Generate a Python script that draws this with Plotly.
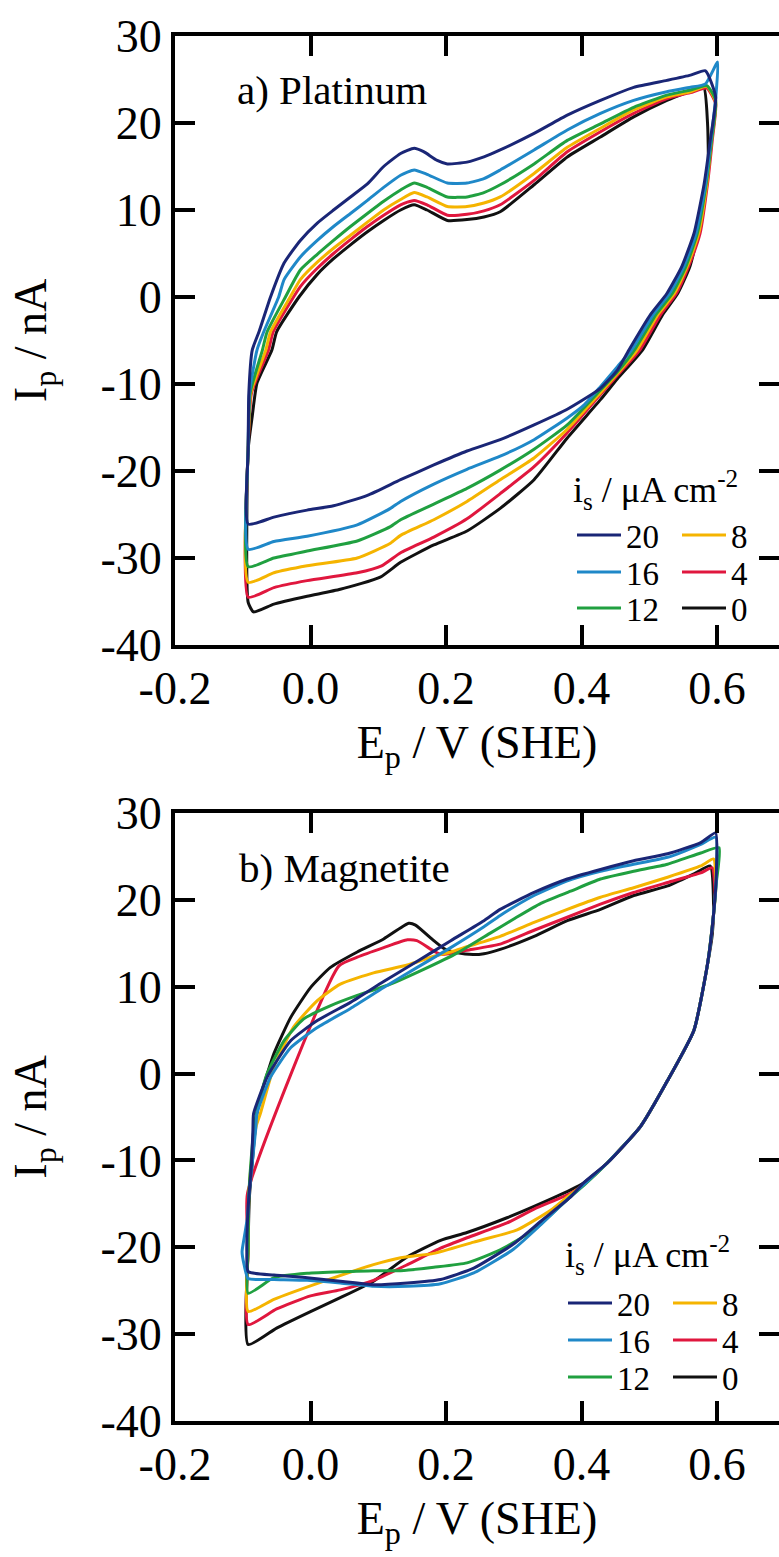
import plotly.graph_objects as go

# ---------------- data ----------------
# a) Platinum : anodic branch followed by cathodic branch (closed loop)
PT_E_20 = [-0.092, -0.092, -0.091, -0.086, -0.076, -0.059, -0.039, -0.015, 0.010, 0.034, 0.059, 0.084, 0.108, 0.133,
           0.153, 0.167, 0.187, 0.202, 0.231, 0.256, 0.280, 0.330, 0.379, 0.428, 0.477, 0.526, 0.561, 0.583,
           0.598, 0.590, 0.581, 0.566, 0.548, 0.526, 0.502, 0.470, 0.453, 0.428, 0.379, 0.330, 0.280, 0.231,
           0.182, 0.133, 0.084, 0.034, -0.005, -0.054, -0.092]
PT_I_20 = [-26.1, -17.5, -11.0, -6.1, -4.0, 0.0, 3.9, 6.5, 8.5, 10.0, 11.5, 13.0, 15.0, 16.5,
           17.1, 16.7, 15.7, 15.3, 15.5, 16.1, 16.9, 18.8, 20.9, 22.6, 24.1, 24.9, 25.5, 26.0,
           23.0, 18.0, 13.0, 7.3, 3.5, 0.4, -2.0, -6.1, -8.4, -10.5, -12.9, -14.7, -16.4, -17.7,
           -19.3, -21.0, -22.8, -24.0, -24.5, -25.3, -26.1]

PT_E_16 = [-0.092, -0.092, -0.090, -0.079, -0.069, -0.047, -0.039, -0.015, 0.010, 0.034, 0.059, 0.084, 0.108, 0.133,
           0.153, 0.172, 0.202, 0.231, 0.256, 0.280, 0.330, 0.379, 0.428, 0.477, 0.526, 0.561, 0.583, 0.601,
           0.598, 0.591, 0.583, 0.569, 0.551, 0.530, 0.506, 0.474, 0.453, 0.428, 0.404, 0.379, 0.330, 0.280,
           0.231, 0.182, 0.133, 0.118, 0.069, -0.005, -0.054, -0.092]
PT_I_16 = [-29.0, -17.5, -11.0, -6.1, -4.0, 0.0, 2.0, 4.6, 6.5, 8.1, 9.6, 11.1, 12.6, 14.0,
           14.6, 14.1, 13.1, 13.1, 13.6, 14.6, 16.9, 19.2, 21.1, 22.6, 23.6, 24.1, 24.5, 27.0,
           22.8, 18.0, 13.0, 7.3, 3.5, 0.4, -2.0, -6.1, -8.0, -10.3, -12.4, -13.9, -16.4, -18.3,
           -19.8, -21.5, -23.5, -24.3, -26.2, -27.5, -28.1, -29.0]

PT_E_12 = [-0.092, -0.092, -0.089, -0.071, -0.064, -0.037, -0.015, 0.010, 0.034, 0.059, 0.084, 0.108, 0.133,
           0.153, 0.172, 0.202, 0.231, 0.256, 0.280, 0.330, 0.379, 0.428, 0.477, 0.526, 0.561, 0.585,
           0.598, 0.592, 0.584, 0.571, 0.554, 0.534, 0.510, 0.478, 0.453, 0.428, 0.379, 0.330, 0.280,
           0.231, 0.182, 0.133, 0.118, 0.069, -0.005, -0.054, -0.092]
PT_I_12 = [-31.0, -17.5, -11.0, -6.1, -4.0, 0.0, 3.1, 4.9, 6.5, 8.1, 9.6, 11.0, 12.3,
           13.1, 12.6, 11.5, 11.5, 12.0, 12.9, 15.3, 18.0, 19.9, 21.8, 23.2, 23.8, 24.3,
           22.6, 18.0, 13.0, 7.3, 3.5, 0.4, -2.0, -6.1, -8.6, -10.7, -14.7, -17.5, -19.9,
           -22.0, -23.8, -25.6, -26.4, -28.05, -29.2, -30.0, -31.0]

PT_E_8 = [-0.092, -0.092, -0.088, -0.066, -0.059, -0.030, -0.015, 0.010, 0.034, 0.059, 0.084, 0.108, 0.133,
          0.153, 0.172, 0.202, 0.231, 0.256, 0.280, 0.330, 0.379, 0.428, 0.477, 0.526, 0.561, 0.585,
          0.598, 0.592, 0.585, 0.573, 0.556, 0.537, 0.513, 0.482, 0.453, 0.428, 0.379, 0.330, 0.280,
          0.231, 0.182, 0.133, 0.118, 0.069, -0.005, -0.054, -0.092]
PT_I_8 = [-32.8, -17.5, -11.0, -6.1, -4.0, 0.0, 2.0, 4.0, 5.6, 7.1, 8.6, 10.0, 11.2,
          12.0, 11.5, 10.4, 10.4, 10.8, 11.5, 14.2, 17.2, 19.4, 21.5, 23.0, 23.6, 24.2,
          22.4, 18.0, 13.0, 7.3, 3.5, 0.4, -2.0, -6.1, -8.8, -11.0, -15.2, -18.5, -21.0,
          -23.5, -25.6, -27.4, -28.3, -30.0, -30.9, -31.7, -32.8]

PT_E_4 = [-0.092, -0.092, -0.087, -0.062, -0.055, -0.025, -0.015, 0.010, 0.034, 0.059, 0.084, 0.108, 0.133,
          0.153, 0.172, 0.202, 0.231, 0.256, 0.280, 0.330, 0.379, 0.428, 0.477, 0.526, 0.561, 0.585,
          0.598, 0.593, 0.586, 0.575, 0.558, 0.540, 0.517, 0.486, 0.453, 0.428, 0.379, 0.330, 0.280,
          0.231, 0.182, 0.133, 0.105, 0.069, -0.005, -0.054, -0.092]
PT_I_4 = [-34.5, -17.5, -11.0, -6.1, -4.0, 0.0, 1.2, 3.3, 5.0, 6.6, 8.1, 9.4, 10.6,
          11.1, 10.6, 9.4, 9.5, 9.9, 10.6, 13.4, 16.7, 19.0, 21.1, 22.8, 23.5, 24.0,
          22.2, 18.0, 13.0, 7.3, 3.5, 0.4, -2.0, -6.1, -9.0, -11.2, -15.6, -19.5, -22.6,
          -25.5, -27.6, -29.4, -30.9, -31.7, -32.6, -33.4, -34.5]

PT_E_0 = [-0.092, -0.092, -0.086, -0.079, -0.057, -0.050, -0.017, 0.010, 0.034, 0.059, 0.084, 0.108, 0.133,
          0.153, 0.172, 0.202, 0.231, 0.256, 0.280, 0.330, 0.379, 0.428, 0.477, 0.526, 0.555, 0.580,
          0.586, 0.587, 0.577, 0.560, 0.542, 0.520, 0.490, 0.453, 0.428, 0.379, 0.330, 0.280,
          0.231, 0.182, 0.133, 0.103, 0.044, -0.005, -0.054, -0.084, -0.092]
PT_I_0 = [-35.1, -17.5, -13.7, -9.9, -6.1, -4.0, 0.0, 2.6, 4.4, 6.0, 7.5, 8.8, 10.0,
          10.6, 10.0, 8.8, 8.9, 9.2, 9.8, 12.9, 16.1, 18.4, 20.7, 22.6, 23.5, 24.2,
          20.0, 15.0, 9.0, 3.5, 0.4, -2.0, -6.1, -9.4, -11.8, -16.2, -21.0, -24.3,
          -26.9, -28.5, -30.5, -32.2, -33.6, -34.4, -35.3, -36.2, -35.1]

# b) Magnetite
MG_E_20 = [-0.092, -0.094, -0.093, -0.091, -0.087, -0.085, -0.084, -0.064, -0.029, 0.010, 0.059, 0.108, 0.157,
           0.207, 0.256, 0.280, 0.330, 0.379, 0.428, 0.477, 0.527, 0.576, 0.598,
           0.599, 0.595, 0.586, 0.566, 0.527, 0.487, 0.438, 0.403, 0.384, 0.340, 0.300, 0.241, 0.192,
           0.143, 0.093, 0.044, -0.005, -0.054, -0.092]
MG_I_20 = [-22.8, -20.5, -17.0, -14.2, -10.3, -6.5, -4.6, -0.4, 3.8, 6.1, 8.2, 10.6, 12.9,
           15.3, 17.6, 18.9, 20.85, 22.4, 23.5, 24.5, 25.3, 26.6, 27.7,
           23.0, 18.4, 12.6, 5.0, -0.8, -6.1, -10.3, -12.6, -14.2, -17.0, -19.6, -22.4, -23.7,
           -24.1, -24.3, -23.9, -23.5, -23.2, -22.8]

MG_E_16 = [-0.092, -0.098, -0.101, -0.097, -0.093, -0.091, -0.086, -0.081, -0.079, -0.059, -0.029, 0.010, 0.059,
           0.108, 0.157, 0.207, 0.256, 0.280, 0.330, 0.379, 0.428, 0.477, 0.527, 0.576, 0.598,
           0.599, 0.595, 0.586, 0.566, 0.527, 0.487, 0.438, 0.403, 0.379, 0.340, 0.300, 0.241, 0.192,
           0.143, 0.093, 0.044, -0.005, -0.054, -0.092]
MG_I_16 = [-23.6, -22.0, -20.5, -18.5, -16.5, -14.2, -10.3, -6.5, -4.6, -0.4, 3.0, 5.3, 7.5,
           9.9, 12.2, 14.5, 16.9, 18.2, 20.5, 22.2, 23.3, 24.1, 24.9, 26.4, 27.2,
           22.5, 18.4, 12.6, 5.0, -0.8, -6.1, -10.3, -12.8, -14.5, -17.4, -20.2, -22.95, -24.2,
           -24.5, -24.5, -24.1, -23.8, -23.7, -23.6]

MG_E_12 = [-0.092, -0.092, -0.091, -0.088, -0.083, -0.075, -0.064, -0.039, -0.010, 0.029, 0.069, 0.118,
           0.167, 0.217, 0.266, 0.300, 0.340, 0.384, 0.428, 0.477, 0.527, 0.576, 0.603,
           0.599, 0.595, 0.586, 0.566, 0.527, 0.487, 0.438, 0.403, 0.379, 0.330, 0.280, 0.231,
           0.182, 0.133, 0.093, -0.005, -0.054, -0.092]
MG_I_12 = [-25.3, -20.0, -14.0, -10.3, -6.0, -3.0, 0.0, 3.8, 6.3, 7.8, 9.0, 10.3,
           12.0, 13.9, 16.2, 17.8, 19.6, 21.0, 22.4, 23.3, 24.1, 25.4, 26.0,
           22.0, 18.4, 12.6, 5.0, -0.8, -6.1, -10.3, -12.9, -14.5, -18.0, -20.3, -21.8,
           -22.3, -22.7, -22.7, -23.0, -23.5, -25.3]

MG_E_8 = [-0.092, -0.092, -0.091, -0.087, -0.080, -0.074, -0.054, -0.025, 0.010, 0.044, 0.093, 0.143,
          0.182, 0.207, 0.231, 0.280, 0.330, 0.379, 0.428, 0.477, 0.527, 0.576, 0.595,
          0.598, 0.595, 0.586, 0.566, 0.527, 0.487, 0.438, 0.403, 0.379, 0.355, 0.305, 0.241,
          0.182, 0.133, 0.093, 0.020, -0.054, -0.092]
MG_I_8 = [-27.4, -20.0, -14.0, -10.0, -6.0, -4.6, 0.8, 5.35, 8.4, 10.3, 11.6, 12.5,
          13.5, 14.0, 14.6, 15.8, 17.4, 18.9, 20.3, 21.4, 22.6, 23.9, 24.7,
          21.0, 18.4, 12.6, 5.0, -0.8, -6.1, -10.3, -12.8, -14.2, -15.7, -18.0, -19.4,
          -20.7, -21.2, -22.0, -23.9, -26.0, -27.4]

MG_E_4 = [-0.092, -0.092, -0.093, 0.042, 0.069, 0.108, 0.143, 0.157, 0.182, 0.194, 0.231, 0.280,
          0.330, 0.379, 0.428, 0.477, 0.527, 0.576, 0.593,
          0.597, 0.595, 0.586, 0.566, 0.527, 0.487, 0.438, 0.403, 0.384, 0.330, 0.290, 0.231,
          0.192, 0.143, 0.093, 0.044, 0.000, -0.050, -0.092]
MG_I_4 = [-28.9, -20.0, -13.8, 12.4, 13.4, 14.5, 15.4, 15.3, 14.1, 13.7, 14.2, 14.9,
          16.5, 18.0, 19.5, 20.85, 22.0, 23.1, 23.7,
          21.0, 18.4, 12.6, 5.0, -0.8, -6.1, -10.3, -12.8, -13.8, -15.6, -17.2, -18.9,
          -20.1, -22.0, -23.8, -24.9, -25.6, -27.1, -28.9]

MG_E_0 = [-0.092, -0.092, -0.090, -0.086, -0.080, -0.074, -0.054, -0.029, 0.000, 0.029, 0.069, 0.108,
          0.145, 0.155, 0.182, 0.197, 0.217, 0.240, 0.256, 0.280, 0.330, 0.379, 0.428, 0.477,
          0.527, 0.566, 0.590,
          0.595, 0.593, 0.586, 0.566, 0.527, 0.487, 0.438, 0.403, 0.384, 0.330, 0.290, 0.231,
          0.192, 0.143, 0.093, 0.044, 0.000, -0.050, -0.092]
MG_I_0 = [-31.2, -20.0, -14.0, -10.3, -5.0, -2.7, 2.3, 6.5, 9.9, 12.2, 14.0, 15.5,
          17.3, 17.1, 15.3, 14.4, 13.9, 13.7, 13.8, 14.3, 15.8, 17.6, 18.9, 20.5,
          21.6, 23.0, 23.9,
          19.1, 16.0, 12.6, 5.0, -0.8, -6.1, -10.3, -12.6, -13.4, -15.3, -16.6, -18.3,
          -19.2, -21.1, -23.9, -25.8, -27.4, -29.3, -31.2]

SERIES = ["20", "16", "12", "8", "4", "0"]          # legend labels, i_s / uA cm-2
DRAW_ORDER = ["0", "4", "8", "12", "16", "20"]
COLORS = {"20": "#1a2676", "16": "#1f88c8", "12": "#20a040", "8": "#f5b400",
          "4": "#e0173e", "0": "#111111"}

X_TICKS = [-0.2, 0.0, 0.2, 0.4, 0.6]
X_TICKTEXT = ["-0.2", "0.0", "0.2", "0.4", "0.6"]
Y_TICKS = [-40, -30, -20, -10, 0, 10, 20, 30]
Y_TICKTEXT = ["-40", "-30", "-20", "-10", "0", "10", "20", "30"]

PANELS = [
    {"label": "a) Platinum", "data": {"20": (PT_E_20, PT_I_20), "16": (PT_E_16, PT_I_16),
                                      "12": (PT_E_12, PT_I_12), "8": (PT_E_8, PT_I_8),
                                      "4": (PT_E_4, PT_I_4), "0": (PT_E_0, PT_I_0)}},
    {"label": "b) Magnetite", "data": {"20": (MG_E_20, MG_I_20), "16": (MG_E_16, MG_I_16),
                                       "12": (MG_E_12, MG_I_12), "8": (MG_E_8, MG_I_8),
                                       "4": (MG_E_4, MG_I_4), "0": (MG_E_0, MG_I_0)}},
]
for p in PANELS:
    for k, (e, i) in p["data"].items():
        assert len(e) == len(i), (p["label"], k, len(e), len(i))

# ---------------- layout geometry ----------------
W, H = 779, 1557
ML, MR, MT, MB = 175, 0, 36, 136
FONT = "Liberation Serif, serif"


def fx(px):
    return (px - ML) / (W - ML - MR)


def fy(py):
    return (H - MB - py) / (H - MT - MB)


X_RANGE = [-0.2, -0.2 + (W - ML - MR) / 677.5]
DOMAINS = [[fy(645), 1.0], [0.0, fy(813)]]
LABEL_POS = [(235, 90), (237, 868)]
LEG_TITLE_POS = [(571, 490), (563, 1255)]
LEG_COLS = [[577, 682], [568, 673]]
LEG_ROWS = [[535, 572, 608], [1303, 1340, 1377]]
SLOT = {"20": (0, 0), "16": (0, 1), "12": (0, 2), "8": (1, 0), "4": (1, 1), "0": (1, 2)}

fig = go.Figure()
layout_legends = {}
annotations = []
leg_n = 0
for pi, panel in enumerate(PANELS):
    xa = "x" if pi == 0 else "x2"
    ya = "y" if pi == 0 else "y2"
    for key in DRAW_ORDER:
        col, row = SLOT[key]
        leg_n += 1
        lname = "legend" if leg_n == 1 else f"legend{leg_n}"
        e, i = panel["data"][key]
        fig.add_trace(go.Scatter(
            x=e, y=i, mode="lines", name=key, xaxis=xa, yaxis=ya,
            line=dict(color=COLORS[key], width=3, shape="spline", smoothing=0.5),
            legend=lname, showlegend=True, hoverinfo="skip"))
        layout_legends[lname] = dict(
            x=fx(LEG_COLS[pi][col] - 5), y=fy(LEG_ROWS[pi][row]),
            xanchor="left", yanchor="middle", bgcolor="rgba(0,0,0,0)",
            borderwidth=0, font=dict(family=FONT, size=33, color="black"),
            itemwidth=44)
    lx, ly = LABEL_POS[pi]
    annotations.append(dict(text=panel["label"], x=fx(lx), y=fy(ly), xref="paper", yref="paper",
                            xanchor="left", yanchor="middle", showarrow=False,
                            font=dict(family=FONT, size=41, color="black")))
    tx, ty = LEG_TITLE_POS[pi]
    annotations.append(dict(text="i<sub>s</sub> / μA cm<sup>-2</sup>", x=fx(tx), y=fy(ty),
                            xref="paper", yref="paper", xanchor="left", yanchor="middle",
                            showarrow=False, font=dict(family=FONT, size=36, color="black")))

axis_common = dict(showgrid=False, zeroline=False, showline=True, linewidth=4, linecolor="black",
                   ticks="inside", ticklen=20, tickwidth=4, tickcolor="black", mirror="ticks",
                   tickfont=dict(family=FONT, size=46, color="black"))

fig.update_layout(
    template="none",
    width=W, height=H, margin=dict(l=ML, r=MR, t=MT, b=MB, autoexpand=False),
    paper_bgcolor="white", plot_bgcolor="white",
    annotations=annotations,
    **layout_legends,
)
for pi in range(2):
    sx = "" if pi == 0 else "2"
    fig.update_layout(**{
        f"xaxis{sx}": dict(axis_common, domain=[0, 1], anchor=f"y{sx}", range=X_RANGE,
                           tickvals=X_TICKS, ticktext=X_TICKTEXT,
                           title=dict(text="E<sub>p</sub> / V (SHE)", standoff=14,
                                      font=dict(family=FONT, size=46, color="black"))),
        f"yaxis{sx}": dict(axis_common, domain=DOMAINS[pi], anchor=f"x{sx}", range=[-40, 30],
                           tickvals=Y_TICKS, ticktext=Y_TICKTEXT,
                           title=dict(text="I<sub>p</sub> / nA", standoff=40,
                                      font=dict(family=FONT, size=46, color="black"))),
    })

fig.write_html("out.html", post_script="document.body.style.margin='0px';")
